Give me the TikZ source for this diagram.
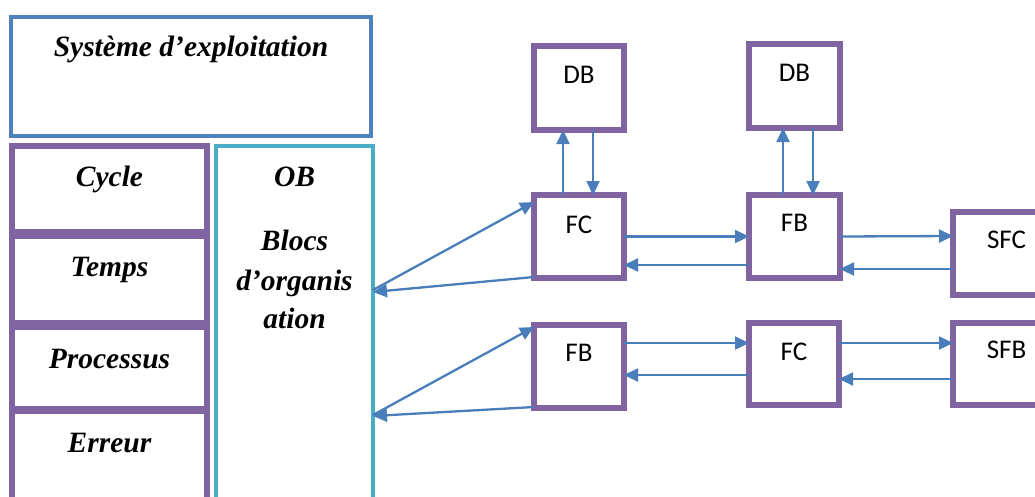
\documentclass[tikz,border=0pt]{standalone}
\usepackage{fontspec}
\setmainfont{Liberation Serif}
\newfontfamily\calfont{Carlito}
\usetikzlibrary{arrows.meta}
\definecolor{sysblue}{HTML}{4F81BD}
\definecolor{purp}{HTML}{8064A2}
\definecolor{cyanb}{HTML}{4BACC6}
\definecolor{arrblue}{HTML}{4A7EBB}
\tikzset{
  pbox/.style={draw=purp, line width=5.5pt, inner sep=0pt, outer sep=0pt, rectangle},
  sysbox/.style={draw=sysblue, line width=4.5pt, inner sep=0pt, outer sep=0pt, rectangle},
  obbox/.style={draw=cyanb, line width=4pt, inner sep=0pt, outer sep=0pt, rectangle},
  ltxt/.style={font=\bfseries\itshape\fontsize{29.5}{36}\selectfont, inner sep=0pt, anchor=base},
  stxt/.style={font=\calfont\fontsize{27}{30}\selectfont, inner sep=0pt, anchor=base},
  arr/.style={draw=arrblue, line width=2.3pt, -{Triangle[length=14pt,width=13pt]}},
}
\begin{document}
\begin{tikzpicture}[x=1pt,y=-1pt]
\useasboundingbox (0,0) rectangle (1035,496);
\clip (0,0) rectangle (1035,496);
% left part
\node[sysbox, minimum width=360pt, minimum height=119pt] (sys) at (191,76.5) {};
\node[pbox, minimum width=195pt, minimum height=86pt] (cyc) at (109.5,189) {};
\node[pbox, minimum width=195pt, minimum height=87pt] (tmp) at (109.5,279.5) {};
\node[pbox, minimum width=195pt, minimum height=82pt] (proc) at (109.5,368) {};
\node[pbox, minimum width=195pt, minimum height=99pt] (err) at (109.5,460.5) {};
\node[obbox, minimum width=157pt, minimum height=364pt] (ob) at (294.5,328) {};
\node[ltxt] (tsys) at (191,56) {Système d’exploitation};
\node[ltxt] (tcyc) at (109.5,186) {Cycle};
\node[ltxt] (ttmp) at (109.5,276) {Temps};
\node[ltxt] (tproc) at (109.5,368) {Processus};
\node[ltxt] (terr) at (109.5,452) {Erreur};
\node[ltxt] (tob1) at (294.5,186) {OB};
\node[ltxt] (tob2) at (294.5,250) {Blocs};
\node[ltxt] (tob3) at (294.5,290) {d’organis};
\node[ltxt] (tob4) at (294.5,328) {ation};
% right part boxes
\node[pbox, minimum width=90pt, minimum height=84pt] (db1) at (579,88) {};
\node[pbox, minimum width=91pt, minimum height=84pt] (db2) at (794.5,86) {};
\node[pbox, minimum width=90pt, minimum height=83pt] (fc1) at (579,236.5) {};
\node[pbox, minimum width=91pt, minimum height=83pt] (fb1) at (794.5,236.5) {};
\node[pbox, minimum width=107pt, minimum height=83pt] (sfc) at (1006.5,253.5) {};
\node[pbox, minimum width=90pt, minimum height=83pt] (fb2) at (579,366.5) {};
\node[pbox, minimum width=90pt, minimum height=82pt] (fc2) at (794,364) {};
\node[pbox, minimum width=107pt, minimum height=82pt] (sfb) at (1006.5,364) {};
\node[stxt] (tdb1) at (579,83) {DB};
\node[stxt] (tdb2) at (794.5,81) {DB};
\node[stxt] (tfc1) at (579,233) {FC};
\node[stxt] (tfb1) at (794.5,231) {FB};
\node[stxt] (tsfc) at (1006.5,248) {SFC};
\node[stxt] (tfb2) at (579,361) {FB};
\node[stxt] (tfc2) at (794,360) {FC};
\node[stxt] (tsfb) at (1006.5,358) {SFB};
% vertical arrows
\draw[arr] ([xshift=-16pt]fc1.north) -- ([xshift=-16pt]db1.south);
\draw[arr] ([xshift=14pt]db1.south) -- ([xshift=14pt]fc1.north);
\draw[arr] ([xshift=-11.5pt]fb1.north) -- ([xshift=-11.5pt]db2.south);
\draw[arr] ([xshift=18.5pt]db2.south) -- ([xshift=18.5pt]fb1.north);
% horizontal arrows top row
\draw[arr] (fc1.east) -- (fb1.west);
\draw[arr] ([yshift=-28.5pt]fb1.west) -- ([yshift=-28.5pt]fc1.east);
\draw[arr] (fb1.east) -- ([yshift=17.5pt]sfc.west);
\draw[arr] ([yshift=-15.5pt]sfc.west) -- ([yshift=-32.5pt]fb1.east);
% horizontal arrows bottom row
\draw[arr] ([yshift=23.5pt]fb2.east) -- ([yshift=21pt]fc2.west);
\draw[arr] ([yshift=-11pt]fc2.west) -- ([yshift=-8.5pt]fb2.east);
\draw[arr] ([yshift=21pt]fc2.east) -- ([yshift=21pt]sfb.west);
\draw[arr] ([yshift=-15pt]sfb.west) -- ([yshift=-15pt]fc2.east);
% diagonal arrows
\draw[arr] ([yshift=38pt]ob.east) -- ([yshift=34.5pt]fc1.west);
\draw[arr] ([yshift=-40.5pt]fc1.west) -- ([yshift=36pt]ob.east);
\draw[arr] ([yshift=-87pt]ob.east) -- ([yshift=39.5pt]fb2.west);
\draw[arr] ([yshift=-40.5pt]fb2.west) -- ([yshift=-88pt]ob.east);
\end{tikzpicture}
\end{document}
